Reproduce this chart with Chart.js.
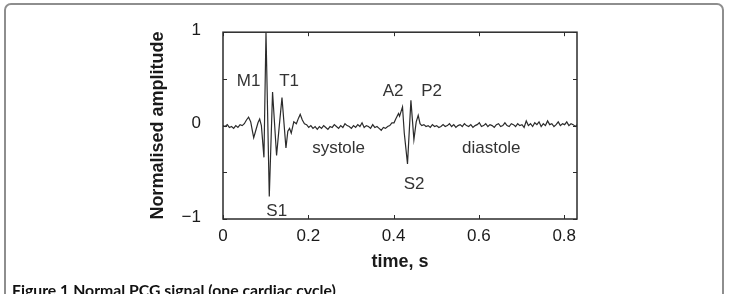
<!DOCTYPE html>
<html>
<head>
<meta charset="utf-8">
<script src="https://cdn.jsdelivr.net/npm/chart.js@4.4.1/dist/chart.umd.min.js"></script>
<style>
  html, body { margin: 0; padding: 0; background: #fff; }
  #wrap { position: relative; width: 730px; height: 294px; overflow: hidden; }
  #card { position: absolute; left: 4px; top: 3px; width: 720px; height: 320px; border: 2px solid #8e8e8e; border-radius: 7px; box-sizing: border-box; }
  #pcg { position: absolute; left: 0; top: 0; }
  #caption { position: absolute; left: 12px; top: 280px; font: bold 15.8px Lato, sans-serif; color: #111; white-space: nowrap; }
</style>
</head>
<body>
<div id="wrap">
  <div id="card"></div>
  <canvas id="pcg" width="730" height="294"></canvas>
  <div id="caption">Figure 1 Normal PCG signal (one cardiac cycle)</div>
</div>
<script>
// one cardiac cycle (time in s, amplitude normalised)
const time = [
  0.000, 0.005, 0.010, 0.015, 0.020, 0.025, 0.030, 0.035, 0.040, 0.045,
  0.050, 0.055, 0.060, 0.065, 0.069, 0.072, 0.077, 0.082, 0.086, 0.090,
  0.096, 0.1008, 0.1085, 0.1162, 0.1256, 0.132, 0.1383, 0.1476, 0.152, 0.156,
  0.160, 0.166, 0.172, 0.177, 0.181, 0.186, 0.191, 0.196,
  0.201, 0.206, 0.211, 0.216, 0.221, 0.226, 0.231, 0.236, 0.241, 0.246,
  0.251, 0.256, 0.261, 0.266, 0.271, 0.276, 0.281, 0.286, 0.291, 0.296,
  0.301, 0.306, 0.311, 0.316, 0.321, 0.326, 0.331, 0.336, 0.341, 0.346,
  0.351, 0.356, 0.361, 0.366, 0.371, 0.376, 0.381, 0.386, 0.391, 0.396,
  0.401, 0.405, 0.4115, 0.414, 0.4209, 0.425, 0.4326, 0.4406, 0.4476, 0.453,
  0.4577, 0.462, 0.466,
  0.471, 0.476, 0.481, 0.486, 0.491, 0.496, 0.501, 0.506, 0.511, 0.516,
  0.521, 0.526, 0.531, 0.536, 0.541, 0.546, 0.551, 0.556, 0.561, 0.566,
  0.571, 0.576, 0.581, 0.586, 0.591, 0.596, 0.601, 0.606, 0.611, 0.616,
  0.621, 0.626, 0.631, 0.636, 0.641, 0.646, 0.651, 0.656, 0.661, 0.666,
  0.671, 0.676, 0.681, 0.686, 0.691, 0.696, 0.701, 0.706, 0.711, 0.716,
  0.721, 0.726, 0.731, 0.736, 0.741, 0.746, 0.751, 0.756, 0.761, 0.766,
  0.771, 0.776, 0.781, 0.786, 0.791, 0.796, 0.801, 0.806, 0.811, 0.816,
  0.821, 0.826, 0.830
]
const amplitude = [
  0.00, -0.01, 0.01, -0.02, -0.01, -0.03, 0.00, -0.02, 0.01, 0.00,
  0.02, 0.06, 0.09, 0.04, -0.06, -0.13, -0.05, 0.03, 0.07, 0.00,
  -0.34, 1.00, -0.76, 0.36, -0.32, 0.00, 0.30, -0.24, -0.06, -0.03,
  -0.08, 0.04, 0.02, 0.08, 0.12, 0.06, 0.02, 0.01,
  -0.02, 0.00, -0.03, -0.01, -0.04, -0.01, -0.03, 0.00, -0.02, -0.04,
  -0.01, -0.02, 0.01, -0.01, -0.03, 0.00, -0.02, 0.02, 0.00, -0.01,
  -0.03, 0.00, -0.02, 0.01, -0.01, 0.03, -0.02, 0.00, -0.01, -0.03,
  0.01, -0.02, -0.01, -0.03, -0.05, -0.02, -0.03, -0.01, 0.00, 0.03,
  0.03, 0.07, 0.13, 0.10, 0.20, -0.08, -0.41, 0.27, -0.15, 0.04,
  0.11, 0.02, 0.00,
  0.01, -0.01, 0.00, -0.02, 0.01, -0.01, 0.00, -0.02, -0.01, 0.01,
  -0.01, 0.00, 0.02, -0.01, 0.01, -0.02, 0.00, 0.01, -0.01, 0.02,
  0.00, -0.01, 0.01, -0.02, 0.00, 0.01, 0.03, -0.01, 0.00, 0.02,
  -0.01, 0.01, 0.00, -0.02, 0.01, 0.02, -0.01, 0.00, 0.03, 0.00,
  -0.01, 0.02, 0.01, -0.01, 0.02, 0.00, 0.01, -0.02, 0.05, 0.00,
  0.02, -0.01, 0.03, 0.01, 0.04, -0.01, 0.02, 0.00, 0.05, 0.01,
  0.02, -0.01, 0.01, 0.04, 0.00, 0.02, 0.01, 0.04, 0.00, 0.02,
  0.01, -0.01, 0.01
]

const xTicks = [0, 0.2, 0.4, 0.6, 0.8]
const xTickLabels = ['0', '0.2', '0.4', '0.6', '0.8']
const yTicks = [-1, -0.5, 0, 0.5, 1]
const yTickLabels = ['\u22121', '', '0', '', '1']

// annotations: text with anchor in data units (baseline of text)
const notes = [
  { text: 'M1', x: 0.060, y: 0.423 },
  { text: 'T1', x: 0.155, y: 0.423 },
  { text: 'S1', x: 0.126, y: -0.969 },
  { text: 'systole', x: 0.271, y: -0.289 },
  { text: 'A2', x: 0.399, y: 0.320 },
  { text: 'P2', x: 0.489, y: 0.320 },
  { text: 'S2', x: 0.448, y: -0.684 },
  { text: 'diastole', x: 0.629, y: -0.289 }
]

const ink = '#2b2b2b'
const face = '"Liberation Sans", Arial, sans-serif'

const framePlugin = {
  id: 'frame',
  afterDatasetsDraw(chart) {
    const { ctx, chartArea: a, scales: { x, y } } = chart
    const len = 4
    ctx.save()
    ctx.strokeStyle = ink
    ctx.lineWidth = 1.5
    ctx.strokeRect(a.left, a.top, a.right - a.left, a.bottom - a.top)
    ctx.lineWidth = 1
    ctx.beginPath()
    xTicks.forEach(v => {
      const px = Math.round(x.getPixelForValue(v)) + 0.5
      ctx.moveTo(px, a.bottom); ctx.lineTo(px, a.bottom - len)
      ctx.moveTo(px, a.top); ctx.lineTo(px, a.top + len)
    })
    yTicks.forEach(v => {
      const py = Math.round(y.getPixelForValue(v)) + 0.5
      ctx.moveTo(a.left, py); ctx.lineTo(a.left + len, py)
      ctx.moveTo(a.right, py); ctx.lineTo(a.right - len, py)
    })
    ctx.stroke()

    ctx.fillStyle = '#333'
    ctx.font = '17px ' + face
    ctx.textAlign = 'center'
    ctx.textBaseline = 'alphabetic'
    notes.forEach(n => ctx.fillText(n.text, x.getPixelForValue(n.x), y.getPixelForValue(n.y)))
    ctx.restore()
  }
}

new Chart('pcg', {
  type: 'line',
  data: {
    datasets: [{
      data: time.map((t, i) => ({ x: t, y: amplitude[i] })),
      borderColor: ink,
      borderWidth: 1.2,
      pointRadius: 0,
      tension: 0
    }]
  },
  options: {
    responsive: false,
    animation: false,
    events: [],
    layout: { padding: { left: 0, top: 26, right: 153, bottom: 0 } },
    plugins: { legend: { display: false }, tooltip: { enabled: false } },
    scales: {
      x: {
        type: 'linear',
        min: 0,
        max: 0.83,
        afterBuildTicks: s => { s.ticks = xTicks.map(v => ({ value: v })) },
        afterFit: s => { s.height = 75 },
        grid: { display: false, drawTicks: false },
        border: { display: false },
        ticks: {
          autoSkip: false,
          maxRotation: 0,
          padding: 7,
          color: '#1a1a1a',
          font: { family: face, size: 17 },
          callback: (v, i) => xTickLabels[i]
        },
        title: {
          display: true,
          text: 'time, s',
          color: '#1a1a1a',
          font: { family: face, size: 18, weight: 'bold' },
          padding: { top: 0, bottom: 21 }
        }
      },
      y: {
        min: -1,
        max: 1,
        afterBuildTicks: s => { s.ticks = yTicks.map(v => ({ value: v })) },
        afterFit: s => { s.width = 223 },
        grid: { display: false, drawTicks: false },
        border: { display: false },
        ticks: {
          autoSkip: false,
          padding: 22,
          labelOffset: -2,
          color: '#1a1a1a',
          font: { family: face, size: 17 },
          callback: (v, i) => yTickLabels[i]
        },
        title: {
          display: true,
          text: 'Normalised amplitude',
          color: '#1a1a1a',
          font: { family: face, size: 18, weight: 'bold' },
          padding: { top: 147, bottom: 0 }
        }
      }
    }
  },
  plugins: [framePlugin]
})
</script>
</body>
</html>
